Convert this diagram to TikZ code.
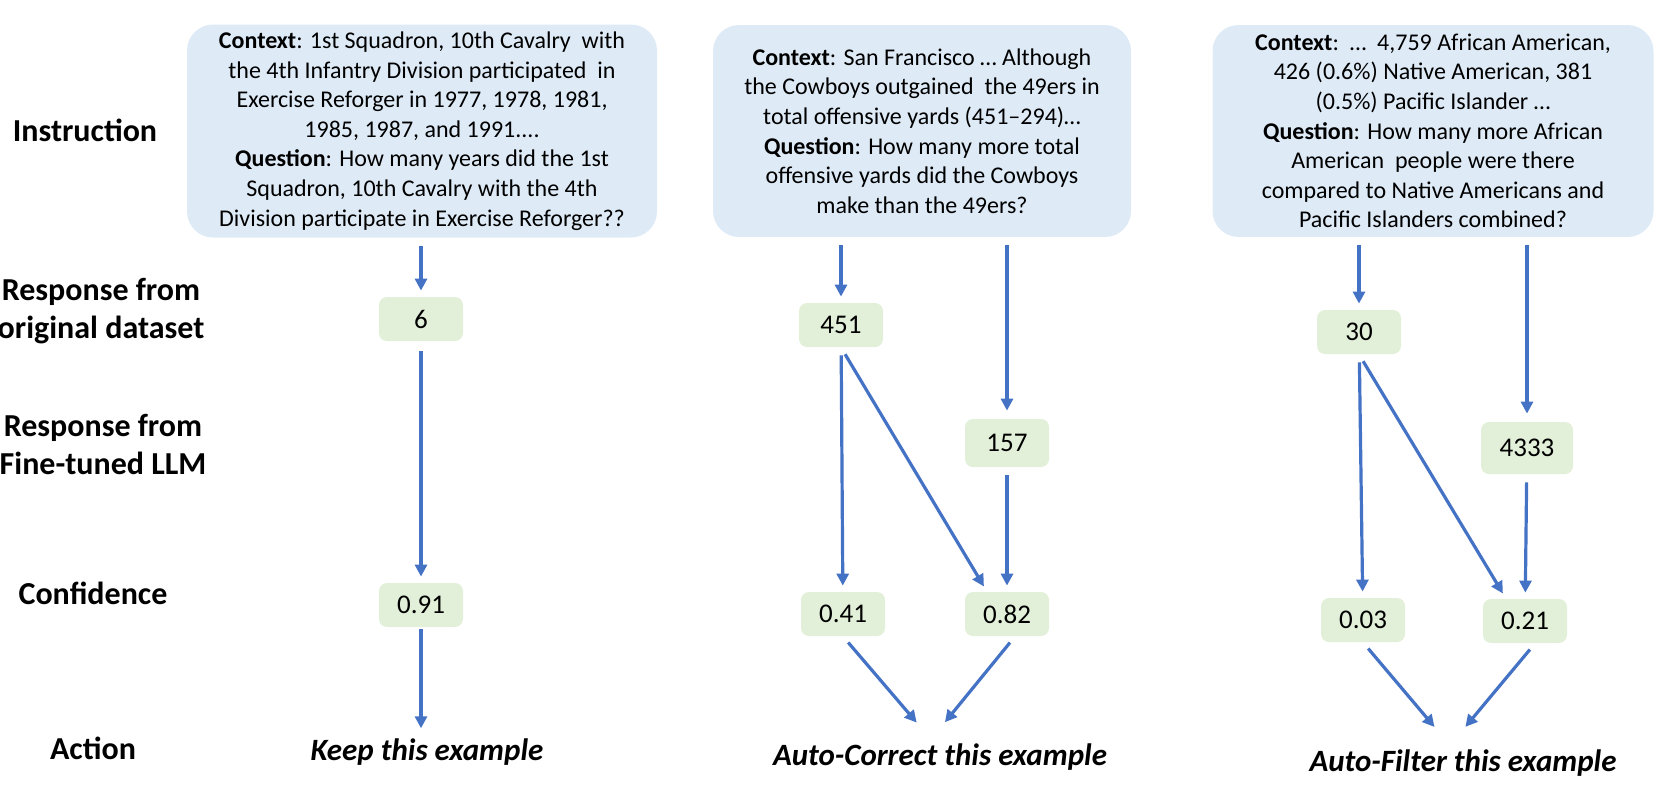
\documentclass[tikz,border=0pt]{standalone}
\usepackage{fontspec}
\setmainfont{Carlito}
\usetikzlibrary{arrows.meta}
\definecolor{instblue}{HTML}{DEEBF7}
\definecolor{valgreen}{HTML}{E2F0D9}
\definecolor{flowblue}{HTML}{4472C4}

\tikzset{
	instbox/.style={fill=instblue, rounded corners=13pt, align=center, inner sep=0pt, font=\fontsize{12}{14.8}\selectfont},
	valbox/.style={fill=valgreen, rounded corners=4pt, minimum width=42pt, minimum height=22pt, inner sep=0pt, font=\fontsize{13.5}{15}\selectfont},
	rowlabel/.style={align=center, font=\fontsize{16}{19}\selectfont\bfseries},
	actlabel/.style={inner sep=2pt, font=\fontsize{15.5}{18}\selectfont\bfseries\itshape},
	flow/.style={->, draw=flowblue, line width=1.6pt, shorten <=4pt, shorten >=3pt},
}

\begin{document}
\begin{tikzpicture}[x=0.5pt,y=-0.5pt,>={Triangle[length=6pt,width=6pt]}]
	\useasboundingbox (0,0) rectangle (1661,800);
	
	% Row labels
	\node[rowlabel] (lblinst) at (85,130) {Instruction};
	\node[rowlabel] (lblorig) at (101,311) {Response from\\original dataset};
	\node[rowlabel] (lblfine) at (103,444) {Response from\\Fine-tuned LLM};
	\node[rowlabel] (lblconf) at (93,593) {Confidence};
	\node[rowlabel] (lblact) at (93,748) {Action};
	
	% Instruction boxes
	\node[instbox, minimum width=235pt, minimum height=106.5pt] (inst1) at (422,131) {\textbf{Context}: 1st Squadron, 10th Cavalry\ \ with\\the 4th Infantry Division participated\ \ in\\Exercise Reforger in 1977, 1978, 1981,\\1985, 1987, and 1991....\\\textbf{Question}: How many years did the 1st\\Squadron, 10th Cavalry with the 4th\\Division participate in Exercise Reforger??};
	\node[instbox, minimum width=209pt, minimum height=106pt] (inst2) at (922,131) {\textbf{Context}: San Francisco … Although\\the Cowboys outgained\ \ the 49ers in\\total offensive yards (451–294)…\\\textbf{Question}: How many more total\\offensive yards did the Cowboys\\make than the 49ers?};
	\node[instbox, minimum width=220.5pt, minimum height=106pt] (inst3) at (1433,131) {\textbf{Context}:\ \ …\ \ 4,759 African American,\\426 (0.6\%) Native American, 381\\(0.5\%) Pacific Islander …\\\textbf{Question}: How many more African\\American\ \ people were there\\compared to Native Americans and\\Pacific Islanders combined?};
	
	% Values, first example
	\node[valbox] (orig1) at (421,319) {6};
	\node[valbox] (conf1) at (421,605) {0.91};
	\node[actlabel] (act1) at (427,752) {Keep this example};
	
	% Values, second example
	\node[valbox] (orig2) at (841,325) {451};
	\node[valbox, minimum height=24pt] (fine2) at (1007,443) {157};
	\node[valbox] (conf2a) at (843,614) {0.41};
	\node[valbox] (conf2b) at (1007,614) {0.82};
	\node[actlabel] (act2) at (940,757) {Auto-Correct this example};
	
	% Values, third example
	\node[valbox] (orig3) at (1359,332) {30};
	\node[valbox, minimum width=46pt, minimum height=26pt] (fine3) at (1527,448) {4333};
	\node[valbox] (conf3a) at (1363,620) {0.03};
	\node[valbox] (conf3b) at (1525,621) {0.21};
	\node[actlabel] (act3) at (1463,763) {Auto-Filter this example};
	
	% Arrows, first example
	\draw[flow] (inst1.south -| orig1.center) -- (orig1);
	\draw[flow, shorten <=5pt] (orig1) -- (conf1);
	\draw[flow, shorten <=1pt] (conf1.south) -- (conf1.south |- act1.north);
	
	% Arrows, second example
	\draw[flow] (inst2.south -| orig2.center) -- (orig2);
	\draw[flow, shorten >=4pt] (inst2.south -| fine2.center) -- (fine2);
	\draw[flow] (orig2) -- (conf2a);
	\draw[flow] (orig2.south) -- ([xshift=-10pt]conf2b.north);
	\draw[flow] (fine2) -- (conf2b);
	\draw[flow, shorten >=11pt] (conf2a.south) -- ([xshift=-4.5pt]act2.north);
	\draw[flow, shorten >=11pt] ([xshift=4pt]conf2b.south) -- ([xshift=-4.5pt]act2.north);
	
	% Arrows, third example
	\draw[flow] (inst3.south -| orig3.center) -- (orig3);
	\draw[flow, shorten >=4pt] (inst3.south -| fine3.center) -- (fine3);
	\draw[flow] (orig3) -- (conf3a);
	\draw[flow] (orig3.south) -- ([xshift=-9.5pt]conf3b.north);
	\draw[flow] (fine3) -- (conf3b);
	\draw[flow, shorten >=12pt] (conf3a.south) -- ([xshift=-6.5pt]act3.north);
	\draw[flow, shorten >=12pt] ([xshift=5pt]conf3b.south) -- ([xshift=-6.5pt]act3.north);
	
\end{tikzpicture}
\end{document}
